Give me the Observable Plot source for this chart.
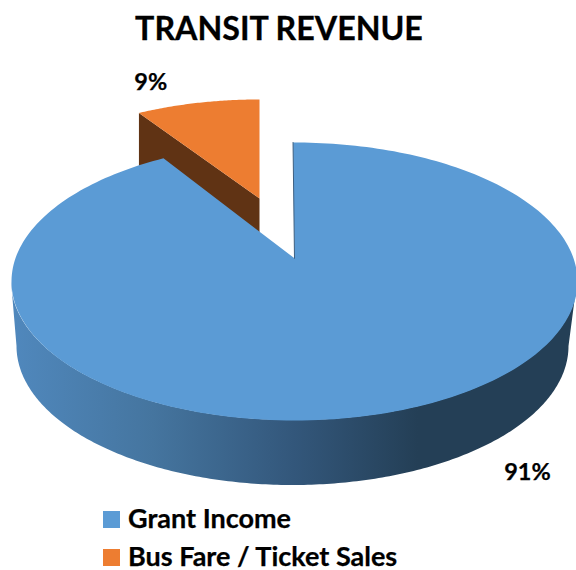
<!DOCTYPE html>
<html>
<head>
<meta charset="utf-8">
<script src="https://cdn.jsdelivr.net/npm/d3@7"></script>
<script src="https://cdn.jsdelivr.net/npm/@observablehq/plot@0.6"></script>
<style>
html,body{margin:0;padding:0;background:#fff;width:576px;height:570px;overflow:hidden;font-family:Lato,"Open Sans",sans-serif;color:#000}
#title{height:60px;box-sizing:border-box;padding-top:7px;text-align:center;font-size:32.2px;line-height:42px;font-weight:700;position:relative;left:-9px;-webkit-text-stroke:0.3px #000}
#legend{position:absolute;left:103px;top:506px;font-weight:700;font-size:27px;-webkit-text-stroke:0.25px #000}
.row{display:flex;align-items:center;height:26px;margin-bottom:12px;line-height:26px;white-space:nowrap}
.sw{width:17px;height:17px;margin-right:8px}
.lab{position:relative;top:-1.5px}
svg{display:block}
</style>
</head>
<body>
<div id="title"></div>
<div id="chart"></div>
<div id="legend"></div>
<script>
const titleText = "TRANSIT REVENUE";
const categories = ["Grant Income", "Bus Fare / Ticket Sales"];
const shares = [91, 9];
const colors = ["#5b9bd5", "#ed7d31"];

// Pie geometry in picture units
const W = 576, TOP = 60, H = 440;
const cx = 294, cy = 281, rx = 283, ry = 139;   // top face ellipse
const bx = 292.5, by = 346, brx = 276, bry = 139; // bottom rim ellipse
const persp = 0.845;                            // perspective foreshortening
const ex = {sx: 0.92, sy: 0.855, ax: 259, ay: 198}; // exploded slice transform
const depth = 62;

const rad = d => d * Math.PI / 180;
// true pie angle (0 = up, clockwise) -> parameter on the foreshortened ellipse
const warp = a => 2 * Math.atan2(persp * Math.sin(a / 2), Math.cos(a / 2));
const rim = a => { const t = warp(a); return [cx + rx * Math.sin(t), cy - ry * Math.cos(t)]; };
const low = a => { const t = warp(a); return [bx + brx * Math.sin(t), by - bry * Math.cos(t)]; };
const apex = [cx, rim(rad(90))[1]];
const explode = ([x, y]) => [ex.ax + ex.sx * (x - cx), ex.ay + ex.sy * (y - apex[1])];

const fr = shares.map(s => s / d3.sum(shares) * 2 * Math.PI);
const A1 = fr[0], A2 = fr[0] + fr[1];
const lean = -rad(0.35);
const sweep = (a, b, n = 240) => d3.range(n + 1).map(i => a + (b - a) * i / n);

const blueFace = [apex, ...sweep(lean, A1).map(rim), apex];
const orangeRim = sweep(A1, A2, 60).map(a => explode(rim(a)));
const orangeFace = [explode(apex), ...orangeRim, explode(apex)];
const p0 = explode(rim(A1)), pa = explode(apex);
const orangeSide = [p0, pa, [pa[0], pa[1] + depth * ex.sy], [p0[0], p0[1] + depth * ex.sy], p0];
// front half of the rim: pie angles whose ellipse parameter runs from 90 to 270 degrees
const sideFrom = 2 * Math.atan2(1, persp);
const sideBand = sweep(sideFrom, 2 * Math.PI - sideFrom).map(a => {
  const [x1, y1] = rim(a); const [x2, y2] = low(a); return {x1, y1, x2, y2};
});

// Value labels anchored on each slice's rim
const mid0 = fr[0] / 2, mid1 = A1 + fr[1] / 2;
const label0 = {p: low(mid0), t: shares[0] + "%"};
const label1 = {p: explode(rim(mid1)), t: shares[1] + "%"};
const textStyle = {x: d => d.p[0], y: d => d.p[1], text: "t", fontFamily: "Lato", fontWeight: 700,
  fontSize: 23.5, fill: "#000", stroke: "#000", strokeWidth: 0.25};

const defs = () => {
  const d = d3.create("svg:defs");
  const g = d.append("linearGradient").attr("id", "side")
    .attr("gradientUnits", "userSpaceOnUse")
    .attr("x1", 11).attr("x2", 576).attr("y1", 0).attr("y2", 0);
  [[0, "#5088bd"], [0.25, "#45759f"], [0.5, "#33577b"], [0.72, "#243f56"], [1, "#243f56"]]
    .forEach(([o, c]) => g.append("stop").attr("offset", o).attr("stop-color", c));
  return d.node();
};

const line = (pts, opt) => Plot.line(pts, {x: d => d[0], y: d => d[1], curve: "linear", ...opt});

const chart = Plot.plot({
  width: W, height: H,
  margin: 0,
  x: {domain: [0, W], range: [0, W], axis: null},
  y: {domain: [TOP, TOP + H], range: [0, H], axis: null},
  marks: [
    defs,
    line(orangeSide, {fill: "#603314", stroke: "none"}),
    line(orangeFace, {fill: colors[1], stroke: "none"}),
    Plot.area(sideBand, {x1: "x1", y1: "y1", x2: "x2", y2: "y2", fill: "url(#side)", curve: "linear"}),
    line(blueFace, {fill: colors[0], stroke: "none"}),
    line([apex, rim(lean)], {stroke: "#3d5f80", strokeWidth: 1}),
    Plot.text([label0], {...textStyle, dx: 144, dy: -5}),
    Plot.text([label1], {...textStyle, dx: -47, dy: -20})
  ]
});
document.getElementById("chart").append(chart);
document.getElementById("title").textContent = titleText;
const lg = d3.select("#legend");
categories.forEach((c, i) => {
  const r = lg.append("div").attr("class", "row").style("margin-bottom", i ? "0" : null);
  r.append("div").attr("class", "sw").style("background", colors[i]);
  r.append("div").attr("class", "lab").text(c);
});
</script>
</body>
</html>
